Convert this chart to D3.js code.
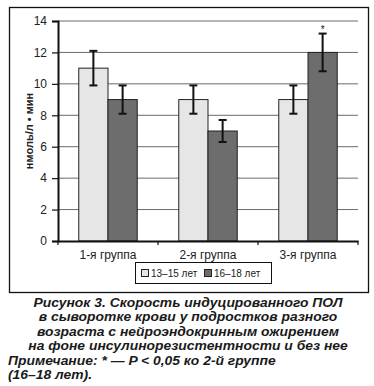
<!DOCTYPE html>
<html>
<head>
<meta charset="utf-8">
<script src="https://cdn.jsdelivr.net/npm/d3@7"></script>
<style>
body { margin: 0; background: #fff; }
svg { display: block; font-family: Arial, "Liberation Sans", sans-serif; }
</style>
</head>
<body>
<script>
var width = 374, height = 386;

// данные
var groups = ["1-я группа", "2-я группа", "3-я группа"];
var series = ["13–15 лет", "16–18 лет"];
var values13 = [11, 9, 9];
var values16 = [9, 7, 12];
var err13 = [1.1, 0.9, 0.9];
var err16 = [0.9, 0.7, 1.2];
var yTicks = [0, 2, 4, 6, 8, 10, 12, 14];
var colors = ["#e6e6e6", "#6d6d6d"];
var caption = [
    "Рисунок 3. Скорость индуцированного ПОЛ",
    "в сыворотке крови у подростков разного",
    "возраста с нейроэндокринным ожирением",
    "на фоне инсулинорезистентности и без нее"
];
var note = ["Примечание: * — P < 0,05 ко 2-й группе", "(16–18 лет)."];

var svg = d3.select("body").append("svg")
    .attr("width", width)
    .attr("height", height);

// рамка
svg.append("rect")
    .attr("x", 9.5).attr("y", 7.5)
    .attr("width", 359).attr("height", 285)
    .attr("fill", "none").attr("stroke", "#111").attr("stroke-width", 1.3);

var x0 = d3.scaleBand().domain(groups).range([58, 358]);
var x1 = d3.scaleBand().domain(series).range([0, x0.bandwidth()]).paddingOuter(0.71);
var y = d3.scaleLinear().domain([0, 14]).range([241, 21]);

// сетка
svg.append("g").selectAll("line")
    .data(yTicks.filter(function(d) { return d > 0; }))
    .enter().append("line")
    .attr("x1", 58).attr("x2", 358)
    .attr("y1", function(d) { return y(d); })
    .attr("y2", function(d) { return y(d); })
    .attr("stroke", "#6a6a6a").attr("stroke-width", 1);

var data = [];
groups.forEach(function(g, i) {
    data.push({ g: g, s: series[0], v: values13[i], e: err13[i], c: colors[0] });
    data.push({ g: g, s: series[1], v: values16[i], e: err16[i], c: colors[1] });
});

svg.append("g").selectAll("rect")
    .data(data)
    .enter().append("rect")
    .attr("x", function(d) { return x0(d.g) + x1(d.s); })
    .attr("y", function(d) { return y(d.v); })
    .attr("width", x1.bandwidth())
    .attr("height", function(d) { return y(0) - y(d.v); })
    .attr("fill", function(d) { return d.c; })
    .attr("stroke", "#222").attr("stroke-width", 1);

// планки погрешностей
var eb = svg.append("g").attr("stroke", "#111").attr("stroke-width", 2);
data.forEach(function(d) {
    var cx = x0(d.g) + x1(d.s) + x1.bandwidth() / 2;
    eb.append("line").attr("x1", cx).attr("x2", cx)
        .attr("y1", y(d.v + d.e)).attr("y2", y(d.v - d.e));
    eb.append("line").attr("x1", cx - 4).attr("x2", cx + 4)
        .attr("y1", y(d.v + d.e)).attr("y2", y(d.v + d.e));
    eb.append("line").attr("x1", cx - 4).attr("x2", cx + 4)
        .attr("y1", y(d.v - d.e)).attr("y2", y(d.v - d.e));
});

// звездочка
svg.append("text")
    .attr("x", x0(groups[2]) + x1(series[1]) + x1.bandwidth() / 2)
    .attr("y", y(values16[2] + err16[2]) - 1)
    .attr("text-anchor", "middle")
    .style("font-size", "10px").attr("fill", "#111")
    .text("*");

// оси
var yAxis = svg.append("g")
    .attr("transform", "translate(58,0)")
    .call(d3.axisLeft(y).tickValues(yTicks).tickSize(6).tickPadding(5));
yAxis.select(".domain").attr("stroke", "#111").attr("stroke-width", 2);
yAxis.selectAll(".tick line").attr("stroke", "#111").attr("stroke-width", 1.2);
yAxis.selectAll("text").style("font-size", "12px").attr("fill", "#222");

var xAxis = svg.append("g")
    .attr("transform", "translate(0,241)")
    .call(d3.axisBottom(x0).tickSize(0).tickPadding(9));
xAxis.select(".domain").attr("stroke", "#111").attr("stroke-width", 2);
xAxis.selectAll("text").style("font-size", "12px").attr("fill", "#222");
xAxis.selectAll(".sep")
    .data([58, 158, 258, 358])
    .enter().append("line")
    .attr("x1", function(d) { return d; }).attr("x2", function(d) { return d; })
    .attr("y1", 0).attr("y2", 4)
    .attr("stroke", "#111").attr("stroke-width", 1.2);

// подпись оси Y
svg.append("text")
    .attr("transform", "translate(33,131) rotate(-90)")
    .attr("text-anchor", "middle")
    .style("font-size", "11px").style("font-weight", "bold").attr("fill", "#222")
    .text("нмоль/л • мин");

// легенда
var lg = svg.append("g");
lg.append("rect").attr("x", 135.5).attr("y", 262.5).attr("width", 136).attr("height", 21)
    .attr("fill", "#fff").attr("stroke", "#111").attr("stroke-width", 1);
var lx = [141, 204];
series.forEach(function(s, i) {
    lg.append("rect").attr("x", lx[i] + 0.5).attr("y", 269.5).attr("width", 7).attr("height", 7)
        .attr("fill", colors[i]).attr("stroke", "#222").attr("stroke-width", 1);
    lg.append("text").attr("x", lx[i] + 10).attr("y", 277)
        .style("font-size", "10px").attr("fill", "#222").text(s);
});

// подпись к рисунку
var cap = svg.append("g")
    .style("font-size", "12px").style("font-weight", "bold").style("font-style", "italic")
    .attr("fill", "#1a1a1a");
var capLines = [];
caption.forEach(function(t, i) {
    capLines.push(cap.append("text").attr("x", 188).attr("y", 307 + i * 14.4)
        .attr("text-anchor", "middle").text(t));
});
note.forEach(function(t, i) {
    capLines.push(cap.append("text").attr("x", 8).attr("y", 365 + i * 14.2)
        .text(t));
});
// шрифт в оригинале шире — растягиваем по первой строке
var k = 309 / capLines[0].node().getComputedTextLength();
capLines.forEach(function(t) {
    var w = t.node().getComputedTextLength();
    t.attr("textLength", w * k).attr("lengthAdjust", "spacingAndGlyphs");
});
</script>
</body>
</html>
